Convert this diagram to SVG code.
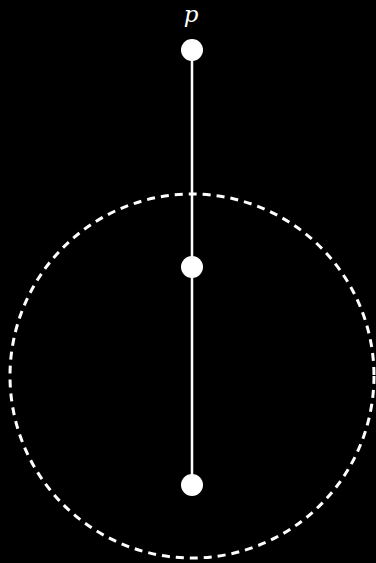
<svg xmlns="http://www.w3.org/2000/svg" width="376" height="563" viewBox="0 0 376 563">
<style>
.node{fill:#fff;stroke:none}
.edge{stroke:#fff;stroke-width:2.5;fill:none}
.dash{stroke:#fff;stroke-width:3;fill:none;stroke-dasharray:8 6}
.lbl{fill:#fff;font-family:"DejaVu Serif","Liberation Serif",serif;font-style:italic;font-size:23px}
</style>
<rect width="376" height="563" fill="#000"/>
<g id="connectors">
<line class="edge" x1="192" y1="50" x2="192" y2="485"/>
</g>
<g id="region">
<circle class="dash" cx="192" cy="376" r="182"/>
</g>
<g id="node-p">
<circle class="node" cx="192" cy="50" r="11"/>
<text class="lbl" x="191" y="22" text-anchor="middle">p</text>
</g>
<g id="node-mid">
<circle class="node" cx="192" cy="267" r="11"/>
</g>
<g id="node-bottom">
<circle class="node" cx="192" cy="485" r="11"/>
</g>
</svg>
